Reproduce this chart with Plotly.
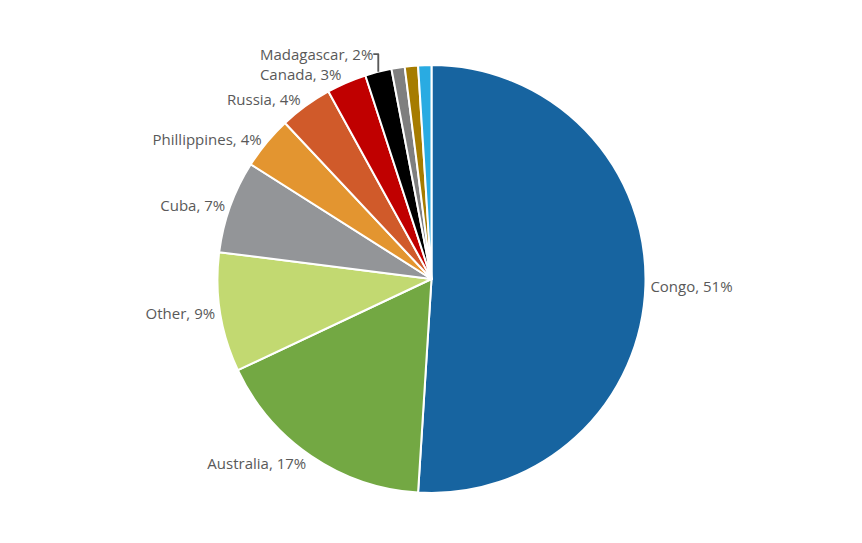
import plotly.graph_objects as go

countries = ["Congo", "Australia", "Other", "Cuba", "Phillippines", "Russia", "Canada", "Madagascar", "s1", "s2", "s3"]
shares = [51, 17, 9, 7, 4, 4, 3, 2, 1, 1, 1]
show_label = [True] * 8 + [False] * 3
colors = ["#1764A0", "#73A843", "#C2D971", "#939598", "#E39530", "#D05A2A",
          "#C00000", "#000000", "#7F7F7F", "#A67C00", "#29ABE2"]

texts = [f"{c}, {v}%" if s else "" for c, v, s in zip(countries, shares, show_label)]

fig = go.Figure(go.Pie(
    labels=countries,
    values=shares,
    text=texts,
    textinfo="text",
    textposition="outside",
    sort=False,
    direction="clockwise",
    rotation=0,
    marker=dict(colors=colors, line=dict(color="white", width=2)),
    textfont=dict(family="Open Sans, Arial", size=15, color="#595959"),
    showlegend=False,
))
fig.update_layout(
    width=862, height=543,
    margin=dict(l=0, r=0, t=57, b=58),
    paper_bgcolor="white",
)
fig.write_html("out.html")
